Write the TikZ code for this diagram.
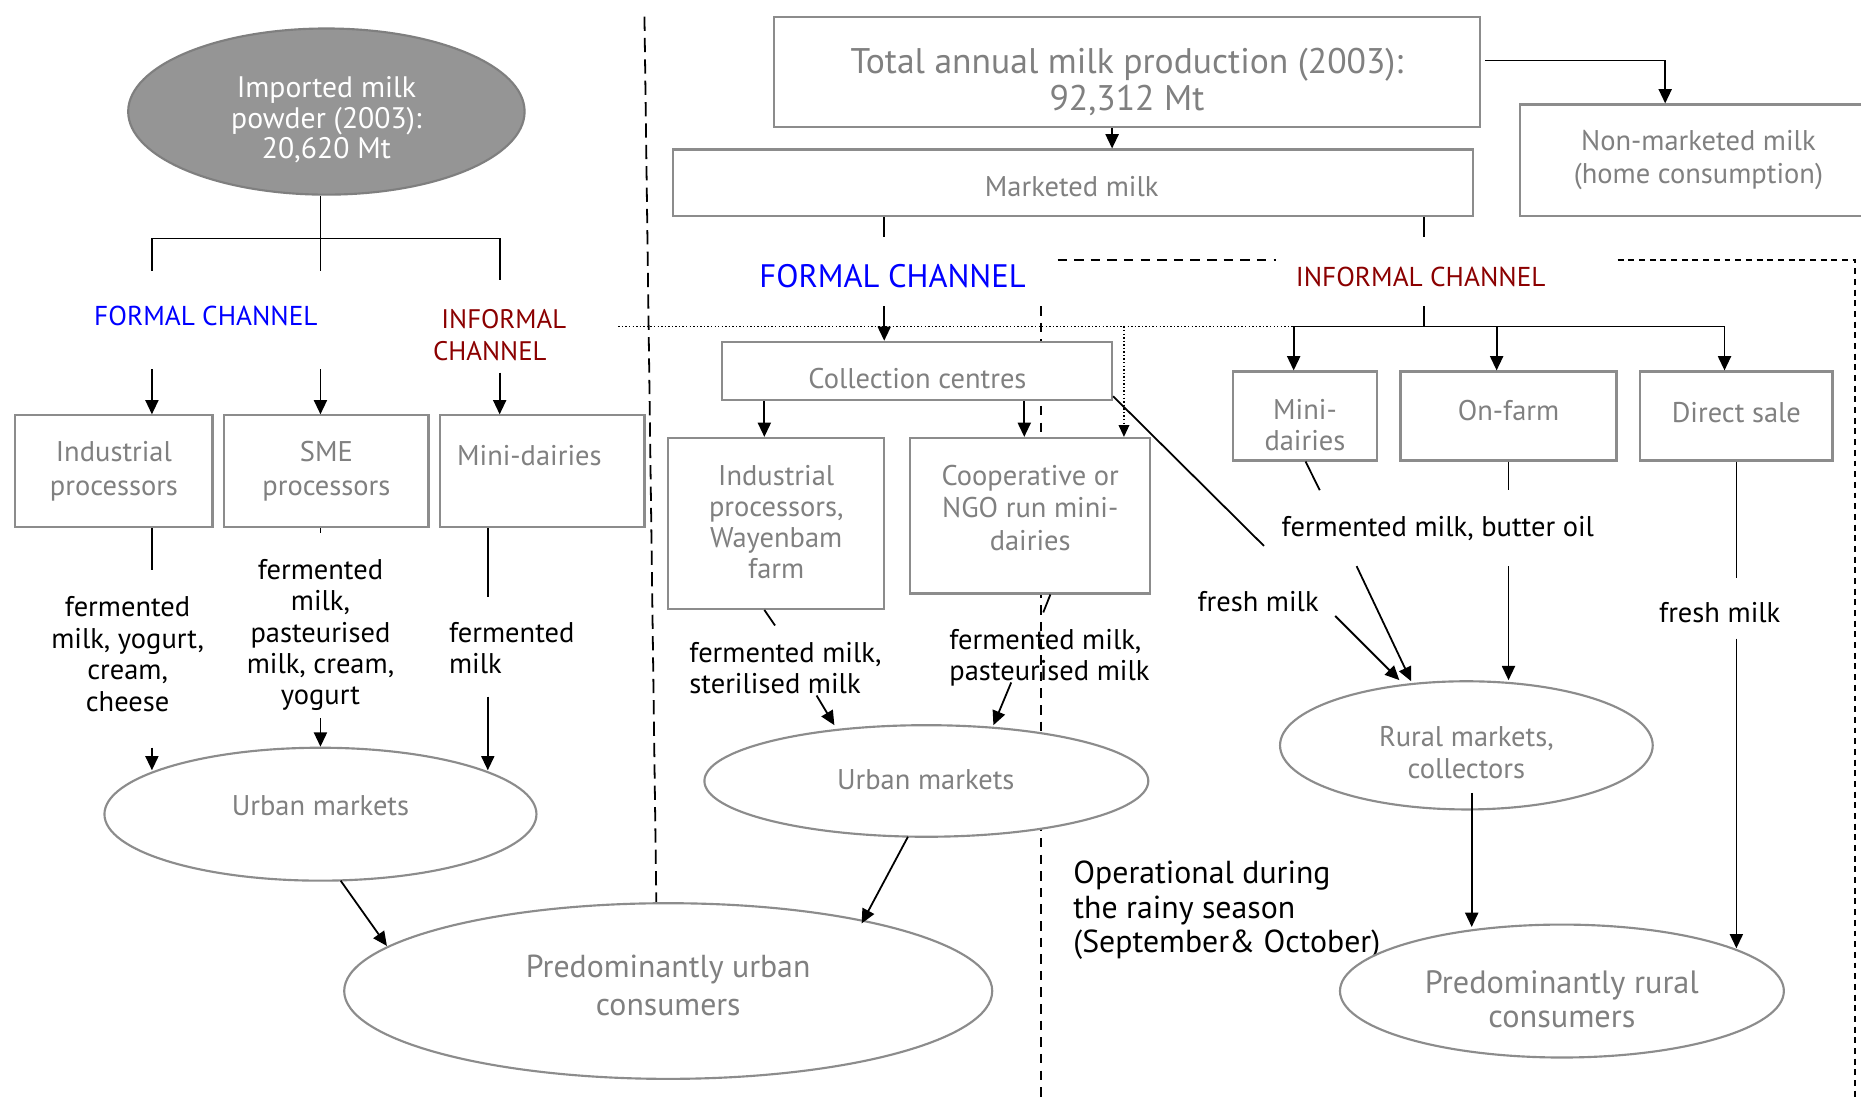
\documentclass[tikz,border=0pt]{standalone}
\usepackage{fontspec}
\setmainfont{PT Sans}
\usetikzlibrary{shapes.geometric,arrows.meta}
\definecolor{gtext}{HTML}{808080}
\definecolor{gline}{HTML}{8C8C8C}
\definecolor{gfill}{HTML}{959595}
\definecolor{gdark}{HTML}{7F7F7F}
\definecolor{fblue}{HTML}{0000FF}
\definecolor{fred}{HTML}{8B0000}
\begin{document}
\begin{tikzpicture}[x=0.5pt,y=-0.5pt,
  box/.style={draw=gline,line width=0.9pt,fill=white,rectangle,inner sep=0pt},
  ell/.style={draw=gline,line width=0.9pt,fill=white,ellipse,inner sep=0pt},
  gt/.style={text=gtext,align=center,inner sep=0pt,font=\fontsize{12}{14}\selectfont},
  lbl/.style={text=black,align=center,inner sep=0pt,font=\fontsize{12}{13.25}\selectfont},
  arr/.style={-{Triangle[length=6pt,width=5.5pt]},line width=0.75pt},
  ln/.style={line width=0.75pt},
  dsh/.style={line width=0.75pt,dash pattern=on 6pt off 3pt},
  dsh2/.style={line width=0.75pt,dash pattern=on 4pt off 3pt},
  dsh3/.style={line width=0.75pt,dash pattern=on 2.5pt off 2pt},
  dtt/.style={line width=0.6pt,dash pattern=on 0.6pt off 0.9pt}
]
\useasboundingbox (0,0) rectangle (1568,927);
\clip (0,0) rectangle (1568,927);
\fill[white] (0,0) rectangle (1568,927);

% ---- separators (behind the shapes)
\draw[dsh] (543,14) -- (553,760);
\draw[dsh2] (877,258) -- (877,927);
\draw[dsh2] (891,219) -- (1075,219);
\draw[dsh3] (1363,219) -- (1563,219) -- (1563,927);
\draw[dtt] (521,275) -- (1090,275);

% ---- left part
\node[ell,fill=gfill,draw=gdark,minimum width=167pt,minimum height=70pt] (imp) at (275,94) {};
\node[align=center,inner sep=0pt,text=white,font=\fontsize{12.5}{12.75}\selectfont] (impt) at (275,101) {Imported milk\\powder (2003):\\20,620 Mt};

\node[text=fblue,inner sep=0pt,font=\fontsize{11.5}{13.5}\selectfont] (fc1) at (173.5,266) {FORMAL CHANNEL};
\node[text=fred,align=left,inner sep=0pt,font=\fontsize{11.3}{13.5}\selectfont] (ic1) at (421,282) {\hspace{3.5pt}INFORMAL\\CHANNEL};

\node[box,minimum width=83pt,minimum height=47pt] (ind1) at (96,397) {};
\node[gt] (ind1t) at (96,397) {Industrial\\processors};
\node[box,minimum width=86pt,minimum height=47pt] (sme) at (275,397) {};
\node[gt] (smet) at (275,397) {SME\\processors};
\node[box,minimum width=86pt,minimum height=47pt] (mdl) at (457,397) {};
\node[gt] (mdlt) at (446,384) {Mini-dairies};

\node[lbl] (l1) at (107.5,551) {fermented\\milk, yogurt,\\cream,\\cheese};
\node[lbl] (l2) at (270,535) {fermented\\milk,\\pasteurised\\milk, cream,\\yogurt};
\node[lbl,anchor=west,align=left] (l3) at (378,546) {fermented\\milk};

\node[ell,minimum width=182pt,minimum height=56pt] (um1) at (270,686) {};
\node[gt] (um1t) at (270,679) {Urban markets};
\node[ell,minimum width=273pt,minimum height=74pt] (puc) at (563,835) {};
\node[gt,font=\fontsize{13.4}{16}\selectfont] (puct) at (563,830) {Predominantly urban\\consumers};

% left connectors
\draw[ln] (imp.south -| 270,0) -- (270,201);
\draw[ln] (128,228) -- (128,201) -- (421,201) -- (421,236);
\draw[ln] (270,201) -- (270,228);
\draw[arr] (128,311) -- (ind1.north -| 128,0);
\draw[arr] (270,311) -- (sme.north -| 270,0);
\draw[arr] (421,314) -- (mdl.north -| 421,0);
\draw[ln] (ind1.south -| 128,0) -- (128,480);
\draw[arr] (128,630) -- (128,649);
\draw[ln] (sme.south -| 270,0) -- (270,449);
\draw[arr] (270,605) -- (um1.north -| 270,0);
\draw[ln] (mdl.south -| 411,0) -- (411,503);
\draw[arr] (411,587) -- (411,649);
\draw[arr] (287,742) -- (326,797);

% ---- middle part
\node[box,minimum width=297.5pt,minimum height=46.5pt] (tot) at (949.5,60.5) {};
\node[gt,font=\fontsize{15}{15.5}\selectfont] (tott) at (949.5,69) {Total annual milk production (2003):\\92,312 Mt};
\node[box,minimum width=337pt,minimum height=28pt] (mkt) at (904,154) {};
\node[gt] (mktt) at (903,157) {Marketed milk};
\node[box,minimum width=150pt,minimum height=47pt] (nonm) at (1431,135) {};
\node[gt] (nonmt) at (1431,135) {Non-marketed milk\\(home consumption)};

\node[text=fblue,inner sep=0pt,font=\fontsize{13.7}{15}\selectfont] (fc2) at (752,233) {FORMAL CHANNEL};
\node[text=fred,inner sep=0pt,font=\fontsize{11.5}{13}\selectfont] (ic2) at (1197,233) {INFORMAL CHANNEL};

\node[box,minimum width=164.5pt,minimum height=24.5pt] (coll) at (772.5,312.5) {};
\node[gt] (collt) at (773,319) {Collection centres};
\node[box,minimum width=91pt,minimum height=72pt] (ind2) at (654,441) {};
\node[gt,font=\fontsize{12}{13}\selectfont] (ind2t) at (654,440) {Industrial\\processors,\\Wayenbam\\farm};
\node[box,minimum width=101pt,minimum height=65.5pt] (coop) at (868,434.5) {};
\node[gt,font=\fontsize{12}{13.5}\selectfont] (coopt) at (868,428) {Cooperative or\\NGO run mini-\\dairies};

\node[lbl,anchor=west,align=left] (l4) at (580.5,563) {fermented milk,\\sterilised milk};
\node[lbl,anchor=west,align=left] (l5) at (799.5,554) {fermented milk,\\pasteurised milk};

\node[ell,minimum width=187pt,minimum height=47pt] (um2) at (780.5,658) {};
\node[gt] (um2t) at (780,657) {Urban markets};

\node[lbl,anchor=west,align=left,font=\fontsize{13.4}{14.5}\selectfont] (oper) at (904,767) {Operational during\\the rainy season\\(September\& October)};

% middle connectors
\draw[arr] (tot.south -| 937,0) -- (mkt.north -| 937,0);
\draw[arr] (1251,51) -- (1403,51) -- (nonm.north -| 1403,0);
\draw[ln] (mkt.south -| 745,0) -- (745,200);
\draw[arr] (745,258) -- (coll.north -| 745,0);
\draw[arr] (coll.south -| 644,0) -- (ind2.north -| 644,0);
\draw[arr] (coll.south -| 863,0) -- (coop.north -| 863,0);
\draw[dtt,-{Triangle[length=5pt,width=4.5pt]}] (947,275) -- (coop.north -| 947,0);
\draw[ln] (coll.south east) ++(0,-4) -- (1065,460);
\draw[ln] (ind2.south -| 644,0) -- (653,527);
\draw[arr] (688,586) -- (703,611);
\draw[ln] (coop.south -| 885,0) -- (879,516);
\draw[arr] (852,575) -- (837,611);
\draw[arr] (765,705) -- (726,778);

% ---- right part
\node[box,minimum width=60.5pt,minimum height=37.5pt] (mdr) at (1099.5,350.5) {};
\node[gt,font=\fontsize{12}{13}\selectfont] (mdrt) at (1099.5,358) {Mini-\\dairies};
\node[box,minimum width=91pt,minimum height=37.5pt] (onf) at (1271,350.5) {};
\node[gt] (onft) at (1271,346) {On-farm};
\node[box,minimum width=81pt,minimum height=37.5pt] (dir) at (1463,350.5) {};
\node[gt] (dirt) at (1463,348) {Direct sale};

\node[lbl] (l6) at (1211.5,445) {fermented milk, butter oil};
\node[lbl] (l7) at (1060,507) {fresh milk};
\node[lbl] (l8) at (1449,516.5) {fresh milk};

\node[ell,minimum width=157pt,minimum height=54pt] (rm) at (1235.5,628) {};
\node[gt,font=\fontsize{12}{13.5}\selectfont] (rmt) at (1235.5,634) {Rural markets,\\collectors};
\node[ell,minimum width=187pt,minimum height=56pt] (prc) at (1316,835) {};
\node[gt,font=\fontsize{13.6}{14}\selectfont] (prct) at (1316,842) {Predominantly rural\\consumers};

% right connectors
\draw[ln] (mkt.south -| 1200,0) -- (1200,200);
\draw[ln] (1200,258) -- (1200,275);
\draw[ln] (1090,275) -- (1453,275);
\draw[arr] (1090,275) -- (mdr.north -| 1090,0);
\draw[arr] (1261,275) -- (onf.north -| 1261,0);
\draw[arr] (1453,275) -- (dir.north -| 1453,0);
\draw[ln] (mdr.south -| 1100,0) -- (1112,413);
\draw[ln] (onf.south -| 1271,0) -- (1271,413);
\draw[ln] (dir.south -| 1463,0) -- (1463,487);
\draw[arr] (1143,477) -- (1189,574);
\draw[arr] (1125,519) -- (1179,573);
\draw[arr] (1271,477) -- (rm.north -| 1271,0);
\draw[arr] (1463,538) -- (1463,799);
\draw[arr] (1240,668) -- (1240,781);
\end{tikzpicture}
\end{document}
